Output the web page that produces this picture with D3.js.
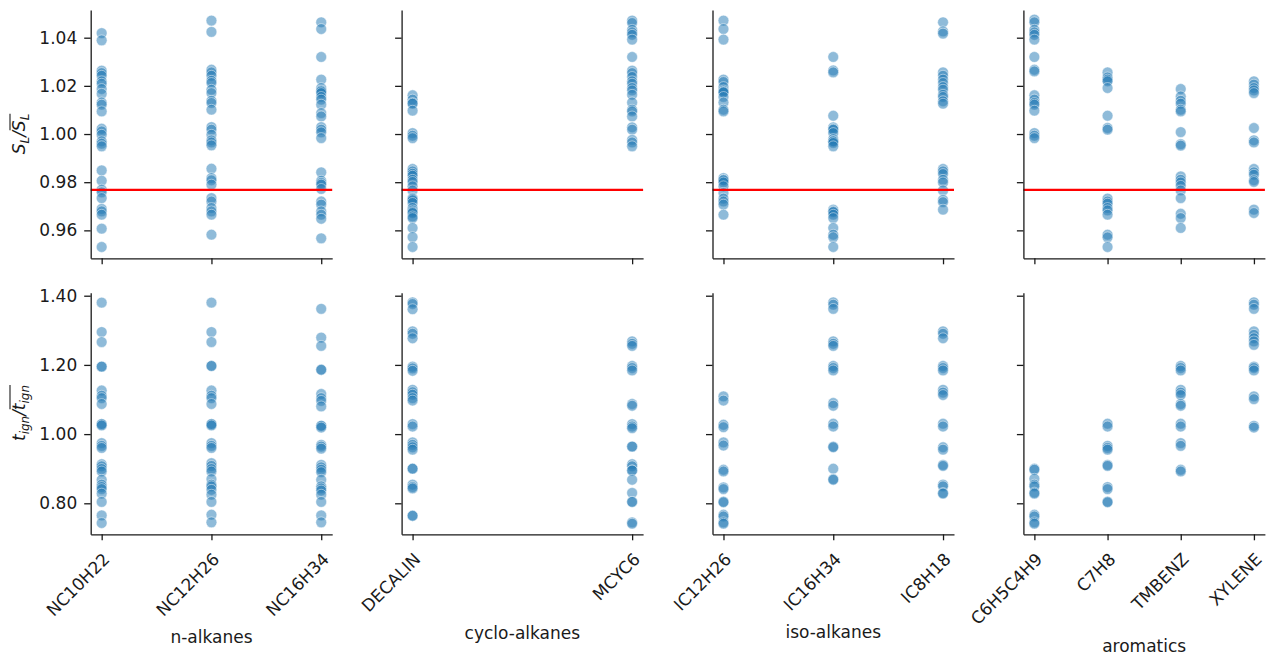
<!DOCTYPE html>
<html>
<head>
<meta charset="utf-8">
<script src="https://cdn.jsdelivr.net/npm/d3@7"></script>
<style>
  html, body { margin: 0; padding: 0; background: #fff; }
  svg { display: block; }
</style>
</head>
<body>
<svg id="chart" width="1270" height="657"></svg>
<script>
// ---------------- DATA ----------------
const groupNames = ["n-alkanes", "cyclo-alkanes", "iso-alkanes", "aromatics"];
const groupCategories = [
  ["NC10H22", "NC12H26", "NC16H34"],
  ["DECALIN", "MCYC6"],
  ["IC12H26", "IC16H34", "IC8H18"],
  ["C6H5C4H9", "C7H8", "TMBENZ", "XYLENE"]
];

// laminar flame speed ratio  S_L / mean(S_L)
const sl_NC10H22 = [1.0419,1.0389,1.0263,1.0253,1.0242,1.0219,1.0209,1.0187,1.0167,1.0131,1.0122,1.0094,1.0022,1.0011,0.9997,0.9970,0.9960,0.9949,0.9849,0.9806,0.9769,0.9758,0.9734,0.9689,0.9679,0.9665,0.9607,0.9531];
const sl_NC12H26 = [1.0471,1.0424,1.0267,1.0256,1.0242,1.0221,1.0212,1.0184,1.0170,1.0138,1.0129,1.0101,1.0029,1.0018,0.9997,0.9974,0.9965,0.9953,0.9856,0.9817,0.9808,0.9790,0.9734,0.9720,0.9693,0.9679,0.9665,0.9582];
const sl_NC16H34 = [1.0464,1.0436,1.0320,1.0226,1.0191,1.0181,1.0177,1.0170,1.0154,1.0143,1.0122,1.0087,1.0073,1.0029,1.0018,1.0007,0.9983,0.9841,0.9806,0.9797,0.9790,0.9772,0.9720,0.9707,0.9679,0.9665,0.9648,0.9567];
const sl_DECALIN = [1.0161,1.0143,1.0129,1.0126,1.0097,1.0004,0.9993,0.9983,0.9855,0.9845,0.9835,0.9827,0.9810,0.9801,0.9783,0.9766,0.9734,0.9730,0.9725,0.9714,0.9693,0.9683,0.9676,0.9672,0.9658,0.9651,0.9610,0.9572,0.9531];
const sl_MCYC6 = [1.0471,1.0461,1.0433,1.0422,1.0412,1.0392,1.0320,1.0263,1.0253,1.0237,1.0219,1.0209,1.0191,1.0181,1.0163,1.0131,1.0101,1.0094,1.0073,1.0028,1.0018,0.9976,0.9965,0.9949];
const sl_IC12H26 = [1.0471,1.0436,1.0392,1.0226,1.0216,1.0195,1.0181,1.0175,1.0173,1.0154,1.0131,1.0101,1.0094,0.9817,0.9810,0.9808,0.9799,0.9783,0.9755,0.9732,0.9720,0.9707,0.9665];
const sl_IC16H34 = [1.0320,1.0264,1.0256,1.0076,1.0028,1.0021,1.0018,1.0004,0.9979,0.9970,0.9970,0.9963,0.9949,0.9686,0.9679,0.9676,0.9665,0.9651,0.9610,0.9582,0.9571,0.9531];
const sl_IC8H18 = [1.0464,1.0426,1.0417,1.0256,1.0242,1.0226,1.0212,1.0195,1.0184,1.0163,1.0154,1.0136,1.0126,0.9855,0.9845,0.9834,0.9810,0.9799,0.9766,0.9727,0.9717,0.9686];
const sl_C6H5C4H9 = [1.0475,1.0464,1.0433,1.0422,1.0412,1.0392,1.0320,1.0267,1.0260,1.0161,1.0143,1.0129,1.0122,1.0097,1.0004,0.9993,0.9983];
const sl_C7H8 = [1.0256,1.0235,1.0226,1.0219,1.0191,1.0076,1.0025,1.0018,0.9732,0.9720,0.9711,0.9693,0.9683,0.9665,0.9582,0.9571,0.9531];
const sl_TMBENZ = [1.0187,1.0156,1.0138,1.0126,1.0101,1.0094,1.0008,0.9958,0.9952,0.9824,0.9810,0.9799,0.9785,0.9766,0.9734,0.9669,0.9651,0.9610];
const sl_XYLENE = [1.0219,1.0205,1.0191,1.0181,1.0170,1.0025,0.9974,0.9965,0.9855,0.9841,0.9831,0.9808,0.9801,0.9686,0.9672];

// ignition delay ratio  t_ign / mean(t_ign)
const tign_NC10H22 = [1.380,1.295,1.266,1.195,1.195,1.126,1.111,1.104,1.087,1.029,1.029,1.025,0.974,0.966,0.960,0.913,0.907,0.899,0.892,0.868,0.854,0.847,0.841,0.828,0.804,0.765,0.743];
const tign_NC12H26 = [1.380,1.295,1.266,1.197,1.197,1.126,1.111,1.104,1.087,1.029,1.029,1.025,0.974,0.966,0.960,0.916,0.908,0.899,0.892,0.870,0.854,0.849,0.839,0.825,0.804,0.767,0.745];
const tign_NC16H34 = [1.362,1.279,1.255,1.186,1.186,1.116,1.104,1.096,1.080,1.024,1.024,1.019,0.969,0.964,0.958,0.911,0.904,0.897,0.890,0.868,0.849,0.843,0.837,0.825,0.804,0.765,0.745];
const tign_DECALIN = [1.381,1.376,1.361,1.297,1.290,1.277,1.195,1.190,1.183,1.128,1.121,1.114,1.104,1.097,1.029,1.022,0.976,0.969,0.962,0.955,0.900,0.900,0.854,0.847,0.843,0.764,0.764];
const tign_MCYC6 = [1.268,1.261,1.255,1.197,1.191,1.184,1.087,1.082,1.029,1.022,1.017,0.964,0.964,0.913,0.907,0.895,0.895,0.868,0.830,0.804,0.804,0.745,0.741];
const tign_IC12H26 = [1.109,1.097,1.027,1.020,0.976,0.967,0.897,0.892,0.846,0.841,0.805,0.803,0.767,0.762,0.745,0.741];
const tign_IC16H34 = [1.381,1.374,1.362,1.268,1.261,1.255,1.197,1.191,1.184,1.090,1.082,1.030,1.022,0.964,0.962,0.900,0.870,0.868];
const tign_IC8H18 = [1.297,1.290,1.277,1.197,1.191,1.184,1.128,1.120,1.113,1.030,1.022,0.962,0.955,0.911,0.908,0.854,0.849,0.830,0.828];
const tign_C6H5C4H9 = [0.900,0.897,0.871,0.854,0.849,0.831,0.828,0.767,0.762,0.745,0.741];
const tign_C7H8 = [1.030,1.022,0.966,0.960,0.955,0.911,0.908,0.847,0.841,0.805,0.803];
const tign_TMBENZ = [1.197,1.191,1.184,1.128,1.120,1.113,1.087,1.082,1.030,1.022,0.974,0.966,0.897,0.892];
const tign_XYLENE = [1.381,1.374,1.362,1.297,1.287,1.277,1.268,1.258,1.195,1.191,1.184,1.109,1.101,1.024,1.019];

const slReferenceLine = 0.9768;
const slTicks = [0.96, 0.98, 1.00, 1.02, 1.04];
const tignTicks = [0.80, 1.00, 1.20, 1.40];
const slDomain = [0.9484, 1.0515];
const tignDomain = [0.7104, 1.4087];

const slByFuel = {
  NC10H22: sl_NC10H22, NC12H26: sl_NC12H26, NC16H34: sl_NC16H34,
  DECALIN: sl_DECALIN, MCYC6: sl_MCYC6,
  IC12H26: sl_IC12H26, IC16H34: sl_IC16H34, IC8H18: sl_IC8H18,
  C6H5C4H9: sl_C6H5C4H9, C7H8: sl_C7H8, TMBENZ: sl_TMBENZ, XYLENE: sl_XYLENE
};
const tignByFuel = {
  NC10H22: tign_NC10H22, NC12H26: tign_NC12H26, NC16H34: tign_NC16H34,
  DECALIN: tign_DECALIN, MCYC6: tign_MCYC6,
  IC12H26: tign_IC12H26, IC16H34: tign_IC16H34, IC8H18: tign_IC8H18,
  C6H5C4H9: tign_C6H5C4H9, C7H8: tign_C7H8, TMBENZ: tign_TMBENZ, XYLENE: tign_XYLENE
};

// ---------------- LAYOUT ----------------
const FONT = "DejaVu Sans";
const FS = 17;
const INK = "#1a1a1a";
const panelLeft0 = 90.7, panelStep = 310.9, panelW = 241.5;
const rows = [
  { top: 10, bottom: 258.3, domain: slDomain, ticks: slTicks, data: slByFuel, refLine: slReferenceLine, xLabels: false },
  { top: 292.7, bottom: 534.3, domain: tignDomain, ticks: tignTicks, data: tignByFuel, refLine: null, xLabels: true }
];

const svg = d3.select("#chart");

rows.forEach((row, ri) => {
  const y = d3.scaleLinear().domain(row.domain).range([row.bottom, row.top]);
  groupCategories.forEach((cats, ci) => {
    const L = panelLeft0 + ci * panelStep;
    const x = d3.scalePoint().domain(cats).range([L, L + panelW]).padding(0.05 * (cats.length - 1));
    const g = svg.append("g");

    // points
    const pts = [];
    cats.forEach(c => row.data[c].forEach(v => pts.push({ c, v })));
    g.append("g").selectAll("circle").data(pts).join("circle")
      .attr("cx", d => x(d.c))
      .attr("cy", d => y(d.v))
      .attr("r", 5.4)
      .attr("fill", "#1f77b4")
      .attr("fill-opacity", 0.5)
      .attr("stroke", "#ffffff")
      .attr("stroke-opacity", 0.5)
      .attr("stroke-width", 0.9);

    if (row.refLine !== null) {
      g.append("line")
        .attr("x1", L).attr("x2", L + panelW)
        .attr("y1", y(row.refLine)).attr("y2", y(row.refLine))
        .attr("stroke", "#ff0000").attr("stroke-width", 2.3);
    }

    // y axis
    const ya = d3.axisLeft(y).tickValues(row.ticks).tickSize(6.5).tickPadding(7).tickSizeOuter(0)
      .tickFormat(ci === 0 ? d3.format(".2f") : () => "");
    const yg = g.append("g").attr("transform", `translate(${L},0)`).call(ya);
    yg.attr("font-family", FONT).attr("font-size", FS);
    yg.selectAll("path, line").attr("stroke", INK).attr("stroke-width", 1.3);
    yg.selectAll("text").attr("fill", INK);

    // x axis
    const xa = d3.axisBottom(x).tickSize(6).tickSizeOuter(0).tickFormat(() => "");
    const xg = g.append("g").attr("transform", `translate(0,${row.bottom})`).call(xa);
    xg.selectAll("path, line").attr("stroke", INK).attr("stroke-width", 1.3);

    if (row.xLabels) {
      const ay = row.bottom + 26;
      let maxW = 0;
      cats.forEach(c => {
        const ax = x(c) + 9;
        const t = g.append("text")
          .attr("transform", `translate(${ax},${ay}) rotate(-45)`)
          .attr("text-anchor", "end")
          .attr("font-family", FONT).attr("font-size", FS).attr("fill", INK)
          .text(c);
        maxW = Math.max(maxW, t.node().getComputedTextLength());
      });
      const labelCy = ay + maxW * Math.SQRT1_2 + 20;
      g.append("text")
        .attr("x", L + panelW / 2).attr("y", labelCy).attr("dy", "0.36em")
        .attr("text-anchor", "middle")
        .attr("font-family", FONT).attr("font-size", FS).attr("fill", INK)
        .text(groupNames[ci]);
    }
  });
});

// ---------------- Y LABELS (math style) ----------------
function mathLabel(cx, cy, main, sub) {
  const g = svg.append("g");
  const t = g.append("text").attr("font-family", FONT).attr("font-size", FS).attr("fill", INK)
    .attr("font-style", "italic");
  const subFs = FS * 0.7, subDy = 4.2;
  t.append("tspan").text(main);
  t.append("tspan").attr("font-size", subFs).attr("dy", subDy).text(sub);
  t.append("tspan").attr("dy", -subDy).text("/");
  t.append("tspan").text(main);
  t.append("tspan").attr("font-size", subFs).attr("dy", subDy).text(sub);
  const node = t.node();
  const len = node.getComputedTextLength();
  t.attr("x", -len / 2);
  const startIdx = main.length + sub.length + 1;
  const endIdx = startIdx + main.length + sub.length - 1;
  const x1 = node.getStartPositionOfChar(startIdx).x;
  const x2 = node.getEndPositionOfChar(endIdx).x;
  g.append("line").attr("x1", x1 + 1).attr("x2", x2)
    .attr("y1", -15).attr("y2", -15).attr("stroke", INK).attr("stroke-width", 1.1);
  g.attr("transform", `translate(${cx},${cy}) rotate(-90)`);
}
mathLabel(25, 134, "S", "L");
mathLabel(25, 413, "t", "ign");
</script>
</body>
</html>
